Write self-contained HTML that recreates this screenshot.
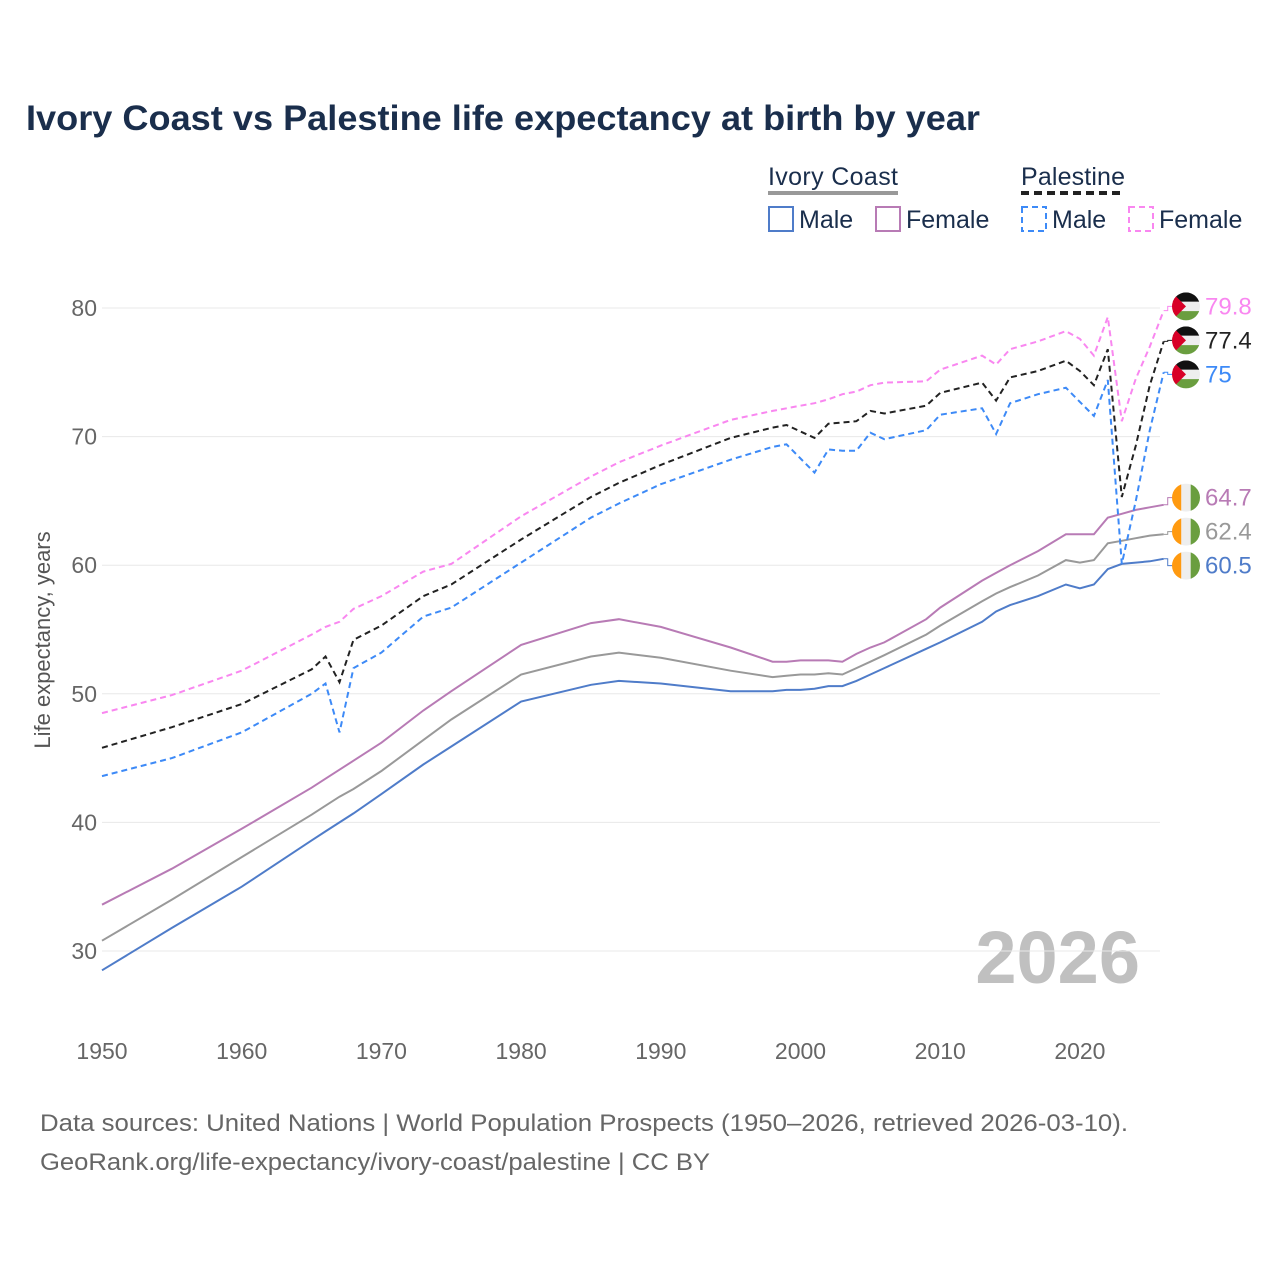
<!DOCTYPE html>
<html><head><meta charset="utf-8"><style>
body{margin:0;background:#fff;font-family:"Liberation Sans",sans-serif}
#c{position:relative;width:1280px;height:1280px}
</style></head><body><div id="c">
<svg id="s" width="1280" height="1280" xmlns="http://www.w3.org/2000/svg" font-family="Liberation Sans, sans-serif">
<text x="26" y="130" font-size="35" font-weight="bold" fill="#1a2e4c" textLength="954" lengthAdjust="spacingAndGlyphs">Ivory Coast vs Palestine life expectancy at birth by year</text>
<g fill="#1a2e4c" font-size="25">
<text x="768" y="185" textLength="130">Ivory Coast</text>
<line x1="768" y1="193" x2="898" y2="193" stroke="#999" stroke-width="4"/>
<text x="1021" y="185" textLength="104">Palestine</text>
<line x1="1021" y1="193" x2="1125" y2="193" stroke="#222" stroke-width="4" stroke-dasharray="8,5"/>
<rect x="769" y="207" width="24" height="24" fill="none" stroke="#4f7cc9" stroke-width="2"/>
<text x="799" y="228">Male</text>
<rect x="876" y="207" width="24" height="24" fill="none" stroke="#b87bb5" stroke-width="2"/>
<text x="906" y="228">Female</text>
<rect x="1022" y="207" width="24" height="24" fill="none" stroke="#3d8af7" stroke-width="2" stroke-dasharray="6,4"/>
<text x="1052" y="228">Male</text>
<rect x="1129" y="207" width="24" height="24" fill="none" stroke="#f987f0" stroke-width="2" stroke-dasharray="6,4"/>
<text x="1159" y="228">Female</text>
</g>
<text x="50" y="640" font-size="22" fill="#555" transform="rotate(-90 50 640)" text-anchor="middle">Life expectancy, years</text>
<text x="1140" y="983" font-size="74" font-weight="bold" fill="#c0c0c0" text-anchor="end">2026</text>
<text x="40" y="1131" font-size="24" fill="#666" textLength="1088" lengthAdjust="spacingAndGlyphs">Data sources: United Nations | World Population Prospects (1950–2026, retrieved 2026-03-10).</text>
<text x="40" y="1170" font-size="24" fill="#666" textLength="670" lengthAdjust="spacingAndGlyphs">GeoRank.org/life-expectancy/ivory-coast/palestine | CC BY</text>
<g id="grid"></g><g id="lines"></g><g id="labels"></g>
</svg></div>
<script>
const years=[1950,1955,1960,1965,1966,1967,1968,1970,1973,1975,1980,1985,1987,1990,1995,1998,1999,2000,2001,2002,2003,2004,2005,2006,2009,2010,2013,2014,2015,2017,2019,2020,2021,2022,2023,2024,2025,2026];
const icMale=[28.5,31.8,35.0,38.6,39.3,40.0,40.7,42.2,44.5,45.9,49.4,50.7,51.0,50.8,50.2,50.2,50.3,50.3,50.4,50.6,50.6,51.0,51.5,52.0,53.5,54.0,55.6,56.4,56.9,57.6,58.5,58.2,58.5,59.7,60.1,60.2,60.3,60.5];
const icTotal=[30.8,34.0,37.3,40.6,41.3,42.0,42.6,44.0,46.4,48.0,51.5,52.9,53.2,52.8,51.8,51.3,51.4,51.5,51.5,51.6,51.5,52.0,52.5,53.0,54.6,55.3,57.2,57.8,58.3,59.2,60.4,60.2,60.4,61.7,61.9,62.1,62.3,62.4];
const icFemale=[33.6,36.4,39.5,42.7,43.4,44.1,44.8,46.2,48.7,50.2,53.8,55.5,55.8,55.2,53.6,52.5,52.5,52.6,52.6,52.6,52.5,53.1,53.6,54.0,55.8,56.7,58.8,59.4,60.0,61.1,62.4,62.4,62.4,63.7,64.0,64.3,64.5,64.7];
const psTotal=[45.8,47.4,49.2,51.9,52.9,50.9,54.2,55.3,57.6,58.5,62.0,65.3,66.4,67.8,69.9,70.7,70.9,70.4,69.9,71.0,71.1,71.2,72.0,71.8,72.4,73.4,74.2,72.8,74.6,75.1,75.9,75.1,74.0,76.8,65.3,69.3,74.0,77.4];
const psMale=[43.6,45.0,47.0,50.0,50.8,47.0,52.0,53.2,56.0,56.7,60.2,63.7,64.8,66.3,68.2,69.2,69.4,68.3,67.2,69.0,68.9,68.9,70.3,69.8,70.5,71.7,72.2,70.2,72.6,73.3,73.8,72.7,71.6,74.4,60.1,65.0,70.5,75.0];
const psFemale=[48.5,49.9,51.8,54.6,55.2,55.6,56.6,57.6,59.5,60.1,63.8,66.9,68.0,69.3,71.3,72.0,72.2,72.4,72.6,72.9,73.3,73.5,74.0,74.2,74.3,75.2,76.3,75.6,76.8,77.4,78.2,77.6,76.3,79.3,71.2,74.5,77.0,79.8];
const yTicks=[30,40,50,60,70,80];
const xTicks=[1950,1960,1970,1980,1990,2000,2010,2020];
const NS='http://www.w3.org/2000/svg';
const X=y=>102+(y-1950)*13.97;
const Y=v=>951-(v-30)*12.86;
function mk(t,a,p){const e=document.createElementNS(NS,t);for(const k in a)e.setAttribute(k,a[k]);p.appendChild(e);return e;}
const g=document.getElementById('grid');
yTicks.forEach(v=>{const l=mk('line',{x1:102,x2:1160,y1:Y(v),y2:Y(v),stroke:'#e8e8e8','stroke-width':1},g);


const t=mk('text',{x:97,y:Y(v)+8,'font-size':23,fill:'#666','text-anchor':'end'},g);t.textContent=v;

});
xTicks.forEach(v=>{const t=mk('text',{x:X(v),y:1059,'font-size':23,fill:'#666','text-anchor':'middle'},g);t.textContent=v;

});
const series=[
{n:'ic-male',d:icMale,c:'#4f7cc9',dash:null,f:'ci'},
{n:'ic-total',d:icTotal,c:'#999',dash:null,f:'ci'},
{n:'ic-female',d:icFemale,c:'#b87bb5',dash:null,f:'ci'},
{n:'ps-male',d:psMale,c:'#3d8af7',dash:'6,4',f:'ps'},
{n:'ps-total',d:psTotal,c:'#222',dash:'6,4',f:'ps'},
{n:'ps-female',d:psFemale,c:'#f987f0',dash:'6,4',f:'ps'}];
const L=document.getElementById('lines');
series.forEach(s=>{const p=mk('path',{d:s.d.map((v,i)=>(i?'L':'M')+X(years[i]).toFixed(1)+','+Y(v).toFixed(1)).join(''),fill:'none',stroke:s.c,'stroke-width':2},L);
if(s.dash)p.setAttribute('stroke-dasharray',s.dash);

});
const lab=series.map(s=>({s,v:s.d[s.d.length-1],y0:Y(s.d[s.d.length-1])})).sort((a,b)=>a.y0-b.y0);
const groups=[];
lab.forEach(o=>{const G=groups[groups.length-1];if(G&&o.y0-G[G.length-1].y0<34)G.push(o);else groups.push([o]);});
groups.forEach(G=>{const m=G.reduce((a,o)=>a+o.y0,0)/G.length;G.forEach((o,i)=>{o.y=m+(i-(G.length-1)/2)*34-1;});});
const LB=document.getElementById('labels');
lab.forEach(o=>{const x0=X(2026),gr=mk('g',{},LB);


mk('path',{d:`M${x0},${o.y0}H${x0+4}V${o.y}H1172`,fill:'none',stroke:o.s.c,'stroke-width':1},gr);
const cx=1186,cy=o.y,r=14;
const cp='cp'+o.s.n;const cl=mk('clipPath',{id:cp},gr);mk('circle',{cx,cy,r},cl);
const fg=mk('g',{'clip-path':`url(#${cp})`},gr);
if(o.s.f==='ps'){mk('rect',{x:cx-r,y:cy-r,width:2*r,height:2*r/3,fill:'#111'},fg);
mk('rect',{x:cx-r,y:cy-r/3,width:2*r,height:2*r/3,fill:'#eee'},fg);
mk('rect',{x:cx-r,y:cy+r/3,width:2*r,height:2*r/3,fill:'#6a9e3f'},fg);
mk('polygon',{points:`${cx-r},${cy-r} ${cx},${cy} ${cx-r},${cy+r}`,fill:'#d80027'},fg);}
else{mk('rect',{x:cx-r,y:cy-r,width:2*r/3,height:2*r,fill:'#ff9a10'},fg);
mk('rect',{x:cx-r/3,y:cy-r,width:2*r/3,height:2*r,fill:'#eee'},fg);
mk('rect',{x:cx+r/3,y:cy-r,width:2*r/3,height:2*r,fill:'#6a9e3f'},fg);}
const t=mk('text',{x:1205,y:o.y+8,'font-size':24,fill:o.s.c},gr);t.textContent=String(o.v);});
</script></body></html>
